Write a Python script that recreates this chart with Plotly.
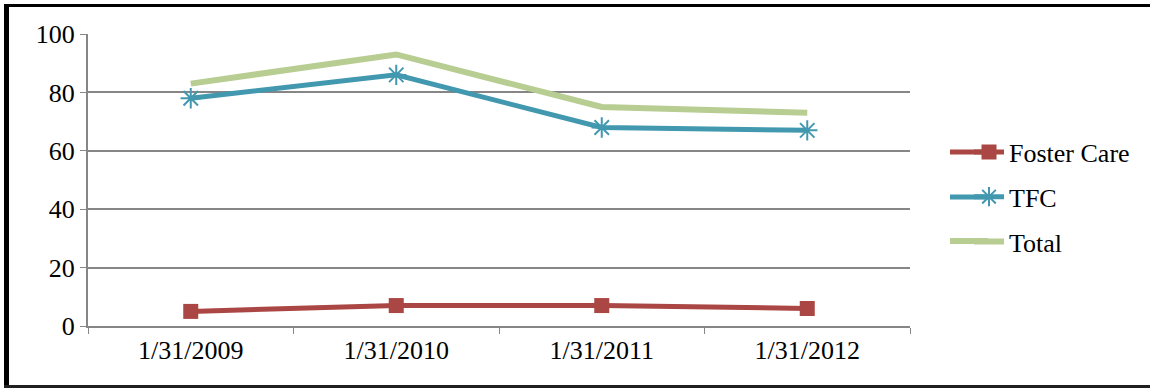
import plotly.graph_objects as go

categories = ["1/31/2009", "1/31/2010", "1/31/2011", "1/31/2012"]
foster_care = [5, 7, 7, 6]
tfc = [78, 86, 68, 67]
total = [83, 93, 75, 73]
y_ticks = [0, 20, 40, 60, 80, 100]

FONT = "Liberation Serif, Times New Roman, serif"
W, H = 1154, 388
L, R, T, B = 88, 244, 34, 62
pw, ph = W - L - R, H - T - B

colors = {"Foster Care": "#AA4643", "TFC": "#4198AF", "Total": "#B7CD91"}


def px(x):
    return (x - L) / pw


def py(y):
    return (T + ph - y) / ph


fig = go.Figure()
fig.add_trace(go.Scatter(
    x=categories, y=foster_care, name="Foster Care", mode="lines+markers",
    line=dict(color=colors["Foster Care"], width=5),
    marker=dict(symbol="square", size=15, color=colors["Foster Care"]),
    legendgroup="a",
))
fig.add_trace(go.Scatter(
    x=categories, y=tfc, name="TFC", mode="lines+markers",
    line=dict(color=colors["TFC"], width=5),
    marker=dict(symbol="asterisk-open", size=17, color=colors["TFC"],
                line=dict(color=colors["TFC"], width=2)),
    legendgroup="b",
))
fig.add_trace(go.Scatter(
    x=categories, y=total, name="Total", mode="lines",
    line=dict(color=colors["Total"], width=6),
    legendgroup="c",
))

# outer border (left thick, top, bottom; right edge cut off in the reference)
fig.add_shape(type="line", xref="paper", yref="paper",
              x0=px(6.5), x1=px(6.5), y0=py(4), y1=py(H),
              line=dict(color="black", width=5))
fig.add_shape(type="line", xref="paper", yref="paper",
              x0=px(4), x1=px(W - 4), y0=py(5.5), y1=py(5.5),
              line=dict(color="black", width=3))
fig.add_shape(type="line", xref="paper", yref="paper",
              x0=px(4), x1=px(W - 4), y0=py(386.5), y1=py(386.5),
              line=dict(color="#202020", width=3))

# extend legend symbol lines leftwards (legend keys are longer in the reference)
for yy, nm in zip([152, 197, 241], ["Foster Care", "TFC", "Total"]):
    fig.add_shape(type="line", xref="paper", yref="paper",
                  x0=px(950), x1=px(988), y0=py(yy), y1=py(yy),
                  line=dict(color=colors[nm], width=6 if nm == "Total" else 5))

fig.update_layout(
    width=W, height=H,
    margin=dict(l=L, r=R, t=T, b=B),
    paper_bgcolor="white", plot_bgcolor="white",
    font=dict(family=FONT, size=26, color="black"),
    showlegend=True,
    legend=dict(x=px(969), xanchor="left", y=py(197),
                yanchor="middle", traceorder="grouped", tracegroupgap=8,
                font=dict(family=FONT, size=26), bgcolor="rgba(0,0,0,0)"),
    xaxis=dict(
        type="category", tickson="boundaries", ticks="outside", ticklen=6,
        tickcolor="#868686", showline=True, linecolor="#868686", linewidth=2,
        showgrid=False, tickfont=dict(size=26), range=[-0.5, 3.5],
    ),
    yaxis=dict(
        range=[0, 100], tickvals=y_ticks, ticks="outside", ticklen=6,
        tickcolor="#868686", showline=True, linecolor="#868686", linewidth=2,
        showgrid=True, gridcolor="#868686", gridwidth=1.5, zeroline=False,
        tickfont=dict(size=26),
    ),
)

fig.write_html("out.html", config={"displayModeBar": False},
               post_script="document.body.style.margin='0';document.body.style.overflow='hidden';")
